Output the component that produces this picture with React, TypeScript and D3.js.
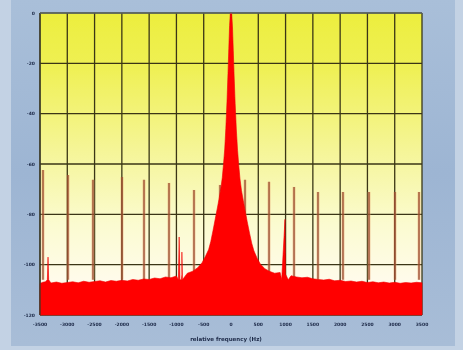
import React, { useEffect, useRef } from 'react';
import * as d3 from 'd3';

// tick labels
const xTicks = [-3500, -3000, -2500, -2000, -1500, -1000, -500, 0, 500, 1000, 1500, 2000, 2500, 3000, 3500];
const yTicks = [0, -20, -40, -60, -80, -100, -120];

// noise floor, [Hz, dB]
const floorLeft: [number, number][] = [
  [-3500, -107.5], [-3450, -107.0], [-3400, -106.8], [-3300, -107.3], [-3200, -106.9], [-3100, -107.4],
  [-3000, -107.1], [-2900, -106.8], [-2800, -107.2], [-2700, -106.6], [-2600, -107.0], [-2500, -106.7],
  [-2400, -106.4], [-2300, -106.9], [-2200, -106.3], [-2100, -106.6], [-2000, -106.2], [-1900, -106.5],
  [-1800, -105.9], [-1700, -106.2], [-1600, -105.7], [-1500, -105.9], [-1400, -105.3], [-1300, -105.6],
  [-1200, -104.9], [-1100, -105.2], [-1000, -104.5], [-900, -104.0],
];
const floorRight: [number, number][] = [
  [800, -103.4], [900, -103.1], [1000, -103.8], [1100, -104.4], [1200, -104.9],
  [1300, -105.2], [1400, -105.0], [1500, -105.6], [1600, -105.9], [1700, -106.1], [1800, -105.8],
  [1900, -106.4], [2000, -106.2], [2100, -106.7], [2200, -106.5], [2300, -106.9], [2400, -106.6],
  [2500, -107.1], [2600, -106.8], [2700, -107.2], [2800, -106.9], [2900, -107.3], [3000, -107.0],
  [3100, -107.4], [3200, -107.1], [3300, -107.3], [3400, -107.0], [3500, -107.2],
];

// carrier peak, [Hz, dB]
const carrier: [number, number][] = [
  [-800, -103.4], [-700, -102.6], [-610, -101.2], [-530, -99.2], [-470, -96.8], [-410, -94.0],
  [-370, -90.8], [-330, -86.5], [-290, -82.0], [-250, -77.5], [-220, -74.0], [-185, -69.5],
  [-160, -65.5], [-137, -60.0], [-115, -54.0], [-95, -46.0], [-73, -35.0], [-55, -24.0],
  [-40, -14.0], [-26, -5.0], [-12, 0],
  [12, 0], [27, -5.5], [42, -15.0], [57, -25.0], [76, -36.0], [98, -46.5], [120, -54.5],
  [142, -60.5], [165, -66.0], [192, -70.5], [225, -74.5], [258, -78.5], [298, -83.0],
  [340, -87.5], [380, -91.5], [420, -94.5], [480, -97.5], [540, -99.8], [620, -101.6], [700, -102.6],
];

// small bumps in the red area: centre Hz, top dB, half width Hz
const bumps: [number, number, number][] = [
  [-3353, -97, 12], [-950, -89, 14], [-900, -95, 10], [989, -82, 60],
];

// harmonic lines: Hz and top dB
const harmHz = [-3445, -2987, -2529, -1997, -1594, -1136, -678, -201, 257, 697, 1155, 1594, 2052, 2529, 3005, 3445];
const harmDb = [-62.4, -64.4, -66.3, -65.2, -66.3, -67.5, -70.3, -68.3, -66.3, -67.1, -69.1, -71.1, -71.1, -71.1, -71.1, -71.1];

const W = 463;
const H = 350;

const App: React.FC = () => {
  const svgRef = useRef<SVGSVGElement>(null);

  useEffect(() => {
    if (!svgRef.current) return;
    const svg = d3.select(svgRef.current);
    svg.selectAll('*').remove();

    const left = 40, right = 422, top = 13, bottom = 315;
    const x = d3.scaleLinear().domain([-3500, 3500]).range([left, right]);
    const y = d3.scaleLinear().domain([-120, 0]).range([bottom, top]);

    const defs = svg.append('defs');
    const bg = defs.append('linearGradient').attr('id', 'bg').attr('x1', 0).attr('y1', 0).attr('x2', 0).attr('y2', 1);
    bg.append('stop').attr('offset', '0%').attr('stop-color', '#a9bfd9');
    bg.append('stop').attr('offset', '50%').attr('stop-color', '#9db5d3');
    bg.append('stop').attr('offset', '100%').attr('stop-color', '#a8bdd7');

    const plotG = defs.append('linearGradient').attr('id', 'plotbg').attr('x1', 0).attr('y1', 0).attr('x2', 0).attr('y2', 1);
    [['0%', '#ecee3e'], ['18%', '#eff054'], ['45%', '#f5f596'], ['70%', '#fbfbd0'], ['88%', '#fffbea'], ['100%', '#fff6ee']]
      .forEach(([o, c]) => plotG.append('stop').attr('offset', o).attr('stop-color', c));

    const blur = defs.append('filter').attr('id', 'soft').attr('x', '-5%').attr('y', '-5%').attr('width', '110%').attr('height', '110%');
    blur.append('feGaussianBlur').attr('stdDeviation', 0.6);

    // outer frame
    svg.append('rect').attr('width', W).attr('height', H).attr('fill', '#c3d2e4');
    const root = svg.append('g').attr('filter', 'url(#soft)');
    root.append('rect').attr('x', 11).attr('y', 0).attr('width', 444).attr('height', 346).attr('fill', 'url(#bg)');

    // plot background
    root.append('rect').attr('x', left).attr('y', top).attr('width', right - left).attr('height', bottom - top).attr('fill', 'url(#plotbg)');

    // grid
    const grid = root.append('g').attr('stroke', '#3a3616').attr('stroke-width', 1.3);
    grid.selectAll('line.v').data(xTicks).join('line')
      .attr('x1', d => x(d)).attr('x2', d => x(d)).attr('y1', top).attr('y2', bottom);
    grid.selectAll('line.h').data(yTicks).join('line').attr('class', 'h')
      .attr('x1', left).attr('x2', right).attr('y1', d => y(d)).attr('y2', d => y(d));

    // harmonic lines
    const harm = harmHz.map((hz, i) => ({ hz, db: harmDb[i] }));
    root.append('g').selectAll('line').data(harm).join('line')
      .attr('x1', d => x(d.hz)).attr('x2', d => x(d.hz))
      .attr('y1', y(-106)).attr('y2', d => y(d.db))
      .attr('stroke', '#e6a070').attr('stroke-opacity', 0.35).attr('stroke-width', 3.5);
    root.append('g').selectAll('line').data(harm).join('line')
      .attr('x1', d => x(d.hz)).attr('x2', d => x(d.hz))
      .attr('y1', y(-106)).attr('y2', d => y(d.db))
      .attr('stroke', '#964226').attr('stroke-width', 1.3);

    // spectrum area
    const pts: [number, number][] = [...floorLeft, ...carrier, ...floorRight];
    bumps.forEach(([hz, db, w]) => {
      pts.push([hz - w, -106], [hz, db], [hz + w, -106]);
    });
    pts.sort((a, b) => a[0] - b[0]);
    const area = d3.area<[number, number]>()
      .x(d => x(d[0]))
      .y0(bottom)
      .y1(d => y(d[1]));
    root.append('path').datum(pts).attr('d', area)
      .attr('fill', '#ff0000').attr('stroke', '#f20000').attr('stroke-width', 0.6);

    // frame edges
    root.append('line').attr('x1', left).attr('x2', left).attr('y1', top).attr('y2', bottom)
      .attr('stroke', '#3a3a2a').attr('stroke-width', 1.2);
    root.append('line').attr('x1', left).attr('x2', right).attr('y1', top).attr('y2', top)
      .attr('stroke', '#6a7a8a').attr('stroke-width', 1);

    // axes labels
    const txt = root.append('g').attr('font-family', 'DejaVu Sans, sans-serif').attr('font-weight', 'bold').attr('fill', '#1d2a48');
    txt.selectAll('text.y').data(yTicks).join('text').attr('class', 'y')
      .attr('x', left - 5).attr('y', d => y(d)).attr('dy', '0.35em')
      .attr('text-anchor', 'end').attr('font-size', 4.5)
      .text(d => d);
    txt.append('g').selectAll('text').data(xTicks).join('text')
      .attr('x', d => x(d)).attr('y', bottom + 11)
      .attr('text-anchor', 'middle').attr('font-size', 4.5)
      .text(d => d);
    txt.append('text').attr('x', (left + right) / 2 - 5).attr('y', bottom + 26)
      .attr('text-anchor', 'middle').attr('font-size', 5.5)
      .text('relative frequency (Hz)');
  }, []);

  return (
    <div style={{ position: 'fixed', left: 0, top: 0 }}>
      <svg ref={svgRef} width={W} height={H} style={{ display: 'block' }} />
    </div>
  );
};

export default App;
